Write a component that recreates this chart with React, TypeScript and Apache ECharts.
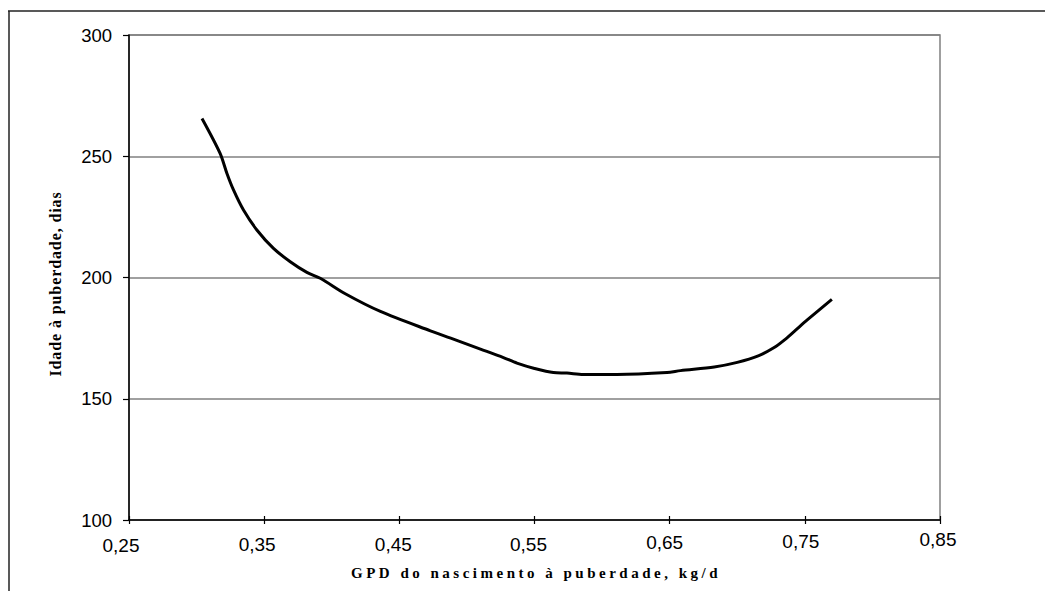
import React, { useEffect, useRef } from "react";
import * as echarts from "echarts";

const xValues = [0.304, 0.3174, 0.3224, 0.3273, 0.3347, 0.3446, 0.3569, 0.3693, 0.3816, 0.3915, 0.41, 0.436, 0.473, 0.488, 0.51, 0.527, 0.537, 0.55, 0.564, 0.574, 0.586, 0.611, 0.648, 0.658, 0.683, 0.7, 0.716, 0.727, 0.735, 0.743, 0.752, 0.77];
const yValues = [265.6, 251.2, 243, 236.1, 227.8, 219.6, 212, 206.5, 202.1, 199.7, 193.3, 186, 178, 175, 170.5, 167, 164.7, 162.5, 160.8, 160.6, 160, 160, 160.8, 161.6, 163.1, 165, 167.8, 171, 174.3, 178.2, 182.6, 191];

const xTickLabels = ["0,25", "0,35", "0,45", "0,55", "0,65", "0,75", "0,85"];
const yTickLabels = ["100", "150", "200", "250", "300"];

const xTitle = "GPD do nascimento à puberdade, kg/d";
const yTitle = "Idade à puberdade, dias";

// per-label offsets [top, right] to mimic the slightly tilted scan
const xLabelPad = [
  [12, 16],
  [9, 14],
  [9, 12],
  [9, 12],
  [6, 10],
  [3, 8],
  [0, 4],
];

export default function App() {
  const ref = useRef<HTMLDivElement>(null);

  useEffect(() => {
    if (!ref.current) return;
    const chart = echarts.init(ref.current, null, { renderer: "svg" });
    const rich: any = {};
    xLabelPad.forEach((p, i) => {
      rich["t" + i] = {
        fontSize: 19,
        lineHeight: 19,
        fontFamily: "'Liberation Sans', Arial, sans-serif",
        color: "#000",
        padding: [p[0], p[1], 0, 0],
      };
    });
    const data = xValues.map((x, i) => [x, yValues[i]]);
    chart.setOption({
      animation: false,
      backgroundColor: "#fff",
      grid: {
        left: 129,
        top: 35,
        right: 105,
        bottom: 71,
        show: true,
        borderColor: "#808080",
        borderWidth: 1.5,
        backgroundColor: "transparent",
      },
      xAxis: [
        {
          type: "value",
          min: 0.25,
          max: 0.85,
          interval: 0.1,
          position: "bottom",
          axisLine: { show: true, lineStyle: { color: "#000", width: 1.5 } },
          axisTick: { show: true, inside: false, length: 4, lineStyle: { color: "#000", width: 1.2 } },
          splitLine: { show: false },
          axisLabel: {
            margin: 10,
            formatter: (v: number) => {
              const i = Math.round((v - 0.25) / 0.1);
              return "{t" + i + "|" + xTickLabels[i] + "}";
            },
            rich,
          },
        },
        {
          type: "value",
          min: 0.25,
          max: 0.85,
          interval: 0.1,
          position: "bottom",
          axisLine: { show: false },
          axisTick: { show: true, inside: true, length: 4, lineStyle: { color: "#000", width: 1.2 } },
          splitLine: { show: false },
          axisLabel: { show: false },
        },
      ],
      yAxis: {
        type: "value",
        min: 100,
        max: 300,
        interval: 50,
        axisLine: { show: true, lineStyle: { color: "#000", width: 1.5 } },
        axisTick: { show: true, inside: false, length: 6, lineStyle: { color: "#000", width: 1.2 } },
        splitLine: { show: true, lineStyle: { color: "#808080", width: 1.5 } },
        axisLabel: {
          margin: 17,
          fontSize: 18.5,
          color: "#000",
          fontFamily: "'Liberation Sans', Arial, sans-serif",
          formatter: (v: number) => yTickLabels[Math.round((v - 100) / 50)],
        },
      },
      series: [
        {
          type: "line",
          xAxisIndex: 0,
          data,
          showSymbol: false,
          smooth: 0.3,
          lineStyle: { color: "#000", width: 3 },
          z: 5,
        },
      ],
      graphic: [
        {
          type: "line",
          shape: { x1: 8, y1: 11, x2: 1045, y2: 11 },
          style: { stroke: "#222", lineWidth: 1.5 },
        },
        {
          type: "line",
          shape: { x1: 9, y1: 11, x2: 9, y2: 591 },
          style: { stroke: "#222", lineWidth: 1.5 },
        },
        {
          type: "text",
          x: 536,
          y: 573,
          style: {
            text: xTitle,
            fontSize: 15,
            fontWeight: "bold",
            fontFamily: "XTitleSpaced, 'Liberation Serif', 'Times New Roman', serif",
            fill: "#000",
            align: "center",
            verticalAlign: "middle",
          },
        },
        {
          type: "text",
          x: 55,
          y: 284,
          rotation: Math.PI / 2,
          style: {
            text: yTitle,
            fontSize: 16,
            fontWeight: "bold",
            fontFamily: "YTitleSpaced, 'Liberation Serif', 'Times New Roman', serif",
            fill: "#000",
            align: "center",
            verticalAlign: "middle",
          },
        },
      ],
    });
    return () => chart.dispose();
  }, []);

  return (
    <>
      <style>{`
        #chartbox text[style*="XTitleSpaced"] { letter-spacing: 3.5px; }
        #chartbox text[style*="YTitleSpaced"] { letter-spacing: 0.9px; }
      `}</style>
      <div
        id="chartbox"
        ref={ref}
        style={{ position: "absolute", left: 0, top: 0, width: 1045, height: 591, background: "#fff" }}
      />
    </>
  );
}
